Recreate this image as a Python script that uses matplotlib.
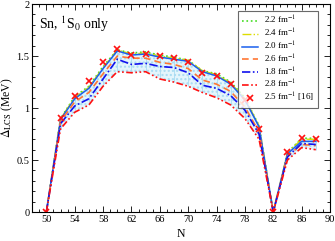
import numpy as np
import matplotlib
matplotlib.use("Agg")
from matplotlib import pyplot as plt
from matplotlib.ticker import MultipleLocator

plt.rcParams['font.family'] = ['Liberation Serif', 'DejaVu Serif']
plt.rcParams['mathtext.fontset'] = 'stix'

# neutron number
N = [50, 52, 54, 56, 58, 60, 62, 64, 66, 68, 70, 72, 74, 76, 78, 80, 82, 84, 86, 88]

# gap for each cutoff (MeV)
gap_22 = [0, 0.90, 1.11, 1.21, 1.40, 1.56, 1.53, 1.54, 1.51, 1.49, 1.46, 1.36, 1.33, 1.25, 1.10, 0.83, 0, 0.57, 0.71, 0.71]
gap_24 = [0, 0.90, 1.10, 1.20, 1.39, 1.56, 1.52, 1.53, 1.50, 1.48, 1.46, 1.36, 1.32, 1.24, 1.09, 0.83, 0, 0.57, 0.70, 0.70]
gap_20 = [0, 0.89, 1.09, 1.19, 1.38, 1.55, 1.51, 1.52, 1.49, 1.47, 1.45, 1.35, 1.31, 1.23, 1.08, 0.82, 0, 0.56, 0.68, 0.68]
gap_26 = [0, 0.87, 1.06, 1.15, 1.33, 1.50, 1.48, 1.48, 1.44, 1.42, 1.38, 1.27, 1.23, 1.16, 1.01, 0.77, 0, 0.54, 0.65, 0.64]
gap_18 = [0, 0.85, 1.02, 1.09, 1.28, 1.47, 1.42, 1.43, 1.40, 1.39, 1.34, 1.22, 1.19, 1.12, 0.98, 0.75, 0, 0.53, 0.66, 0.65]
gap_28 = [0, 0.80, 0.96, 1.03, 1.21, 1.35, 1.34, 1.35, 1.28, 1.25, 1.21, 1.15, 1.10, 1.03, 0.90, 0.70, 0, 0.50, 0.62, 0.60]
gap_ref = [0, 0.90, 1.12, 1.26, 1.44, 1.57, 1.51, 1.52, 1.50, 1.48, 1.44, 1.34, 1.31, 1.23, 1.08, 0.80, 0, 0.58, 0.71, 0.70]

fig = plt.figure(figsize=(3.35, 2.41), dpi=100)
ax = fig.add_axes([0.096, 0.12, 0.889, 0.863])

# shaded band between lowest and highest curves
lo = np.minimum.reduce([gap_18, gap_28, gap_26])
hi = np.maximum.reduce([gap_20, gap_22, gap_24])
ax.fill_between(N, lo, hi, facecolor='#e4f5fc', edgecolor='#a9dcf2', hatch='....', linewidth=0)
ax.vlines(N, lo, hi, color='#a9dcf2', linewidth=0.6)

ax.plot(N, gap_22, ':', color='#44dd22', lw=1.2, label='2.2 fm$^{-1}$')
ax.plot(N, gap_24, '-.', color='#dddd00', lw=1.0, label='2.4 fm$^{-1}$')
ax.plot(N, gap_20, '-', color='#1a5fee', lw=1.1, label='2.0 fm$^{-1}$')
ax.plot(N, gap_26, '--', color='#ff7733', lw=1.2, dashes=(4, 2.5), label='2.6 fm$^{-1}$')
ax.plot(N, gap_18, '-.', color='#1111ee', lw=1.2, dashes=(5, 1.5, 1, 1.5), label='1.8 fm$^{-1}$')
ax.plot(N, gap_28, color='#ff1111', lw=1.2, dashes=(4, 1.5, 1, 1.5, 1, 1.5), label='2.8 fm$^{-1}$')
ax.plot(N, gap_ref, 'x', color='#ff1111', ms=5, mew=1.2, linestyle='none', label='2.5 fm$^{-1}$ [16]')

ax.set_xlim(48, 90)
ax.set_ylim(0, 2)
ax.xaxis.set_minor_locator(MultipleLocator(1))
ax.yaxis.set_minor_locator(MultipleLocator(0.1))
ax.set_xticks([50, 54, 58, 62, 66, 70, 74, 78, 82, 86, 90])
ax.set_yticks([0, 0.5, 1, 1.5, 2])
ax.set_yticklabels(['0', '0.5', '1', '1.5', '2'])
ax.tick_params(which='both', direction='in', top=True, right=True, labelsize=7.5, pad=2)
ax.tick_params(which='major', length=4, width=0.6)
ax.tick_params(which='minor', length=2, width=0.6)
for s in ax.spines.values():
    s.set_linewidth(0.8)

ax.set_xlabel('N', fontsize=8.5, labelpad=3)
ax.set_ylabel(r'$\Delta_{\mathrm{LCS}}$ (MeV)', fontsize=8.5, labelpad=1)
ax.text(49.0, 1.76, r'Sn, $^1$S$_0$ only', fontsize=10, va='baseline')

leg = ax.legend(loc='upper right', fontsize=6.5, frameon=True, fancybox=False,
                edgecolor='#444444', handlelength=1.8, labelspacing=0.08,
                handletextpad=0.7, borderpad=0.4, bbox_to_anchor=(0.975, 0.99))
leg.get_frame().set_linewidth(0.8)

fig.savefig('out.png', dpi=100)
